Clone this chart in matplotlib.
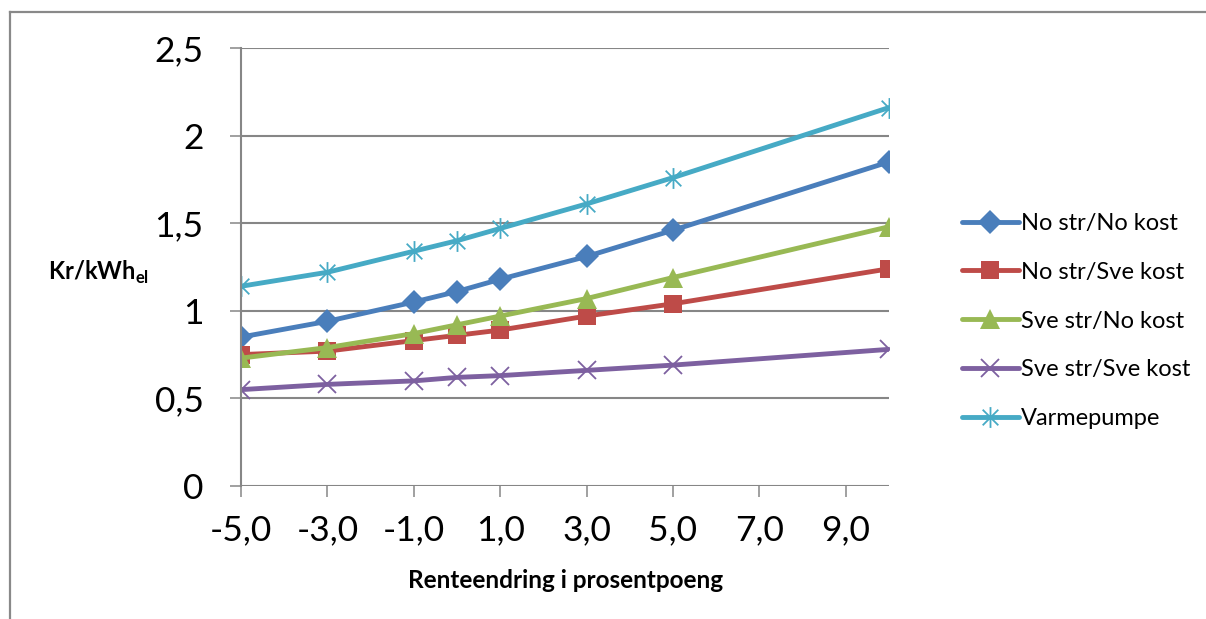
import matplotlib
matplotlib.use("Agg")
import matplotlib.pyplot as plt
from matplotlib.path import Path
from matplotlib.lines import Line2D
from matplotlib.ticker import FuncFormatter

# ---- data ----
x_vals = [-5, -3, -1, 0, 1, 3, 5, 10]
no_str_no_kost = [0.85, 0.94, 1.05, 1.11, 1.18, 1.31, 1.46, 1.85]
no_str_sve_kost = [0.75, 0.77, 0.83, 0.86, 0.89, 0.97, 1.04, 1.24]
sve_str_no_kost = [0.73, 0.79, 0.87, 0.92, 0.97, 1.07, 1.19, 1.48]
sve_str_sve_kost = [0.55, 0.58, 0.60, 0.62, 0.63, 0.66, 0.69, 0.78]
varmepumpe = [1.14, 1.22, 1.34, 1.40, 1.47, 1.61, 1.76, 2.16]
series_labels = ["No str/No kost", "No str/Sve kost", "Sve str/No kost",
                 "Sve str/Sve kost", "Varmepumpe"]
x_ticks = [-5, -3, -1, 1, 3, 5, 7, 9]
y_ticks = [0, 0.5, 1, 1.5, 2, 2.5]
x_label = "Renteendring i prosentpoeng"
y_label = r"Kr/kWh$_{\mathbf{el}}$"

plt.rcParams['font.family'] = ['Lato', 'DejaVu Sans']
plt.rcParams['mathtext.fontset'] = 'custom'
plt.rcParams['mathtext.bf'] = 'Lato:bold'
plt.rcParams['mathtext.rm'] = 'Lato'

W, H = 1206, 619
fig = plt.figure(figsize=(W / 100, H / 100), dpi=100)
ax = fig.add_axes([241 / W, 1 - 486 / H, (889 - 241) / W, (486 - 48) / H])

star = Path([(0, -1), (0, 1), (-0.75, -0.75), (0.75, 0.75), (-0.75, 0.75), (0.75, -0.75)],
            [Path.MOVETO, Path.LINETO, Path.MOVETO, Path.LINETO, Path.MOVETO, Path.LINETO])

styles = [
    dict(color='#4A7EBB', marker='D', markersize=12, mew=0),
    dict(color='#BE4B48', marker='s', markersize=13, mew=0),
    dict(color='#98B954', marker='^', markersize=15, mew=0),
    dict(color='#7D60A0', marker='x', markersize=13, mew=1.3),
    dict(color='#46AAC5', marker=star, markersize=15, mew=1.3),
]
data = [no_str_no_kost, no_str_sve_kost, sve_str_no_kost, sve_str_sve_kost, varmepumpe]
for ys, lab, st in zip(data, series_labels, styles):
    ax.plot(x_vals, ys, label=lab, linewidth=3.5, solid_capstyle='round', **st)

grey = '#868686'
ax.set_xlim(-5, 10)
ax.set_ylim(0, 2.5)
ax.set_xticks(x_ticks)
ax.set_yticks(y_ticks)
ax.xaxis.set_major_formatter(FuncFormatter(lambda v, p: f"{v:.1f}".replace('.', ',')))
ax.yaxis.set_major_formatter(FuncFormatter(lambda v, p: f"{v:g}".replace('.', ',')))
ax.yaxis.grid(True, color=grey, linewidth=1.5)
ax.set_axisbelow(True)
for s in ['top', 'right', 'bottom']:
    ax.spines[s].set_visible(False)
ax.spines['left'].set_color(grey)
ax.spines['left'].set_linewidth(1.5)
ax.tick_params(axis='both', direction='out', length=8, width=1.1, color=grey,
               labelsize=25.5, labelcolor='black')
ax.tick_params(axis='y', pad=19)
ax.tick_params(axis='x', pad=12)

fig.text(48 / W, 1 - 272 / H, y_label, fontsize=17, fontweight='bold', ha='left', va='center')
fig.text(566 / W, 1 - 580 / H, x_label, fontsize=17.5, fontweight='bold', ha='center', va='center')

leg = fig.legend(loc='center left', bbox_to_anchor=(962 / W, 1 - 321 / H), frameon=False,
                 fontsize=17, handlelength=2.4, labelspacing=1.18, handletextpad=0.1,
                 borderaxespad=0, borderpad=0)

# outer chart border (top and left visible)
fig.add_artist(Line2D([10 / W, 10 / W], [0, 1 - 12 / H], color='#898989', linewidth=1.6,
                      transform=fig.transFigure))
fig.add_artist(Line2D([10 / W, 1], [1 - 12 / H, 1 - 12 / H], color='#898989', linewidth=1.6,
                      transform=fig.transFigure))

fig.savefig("out.png", dpi=100)
